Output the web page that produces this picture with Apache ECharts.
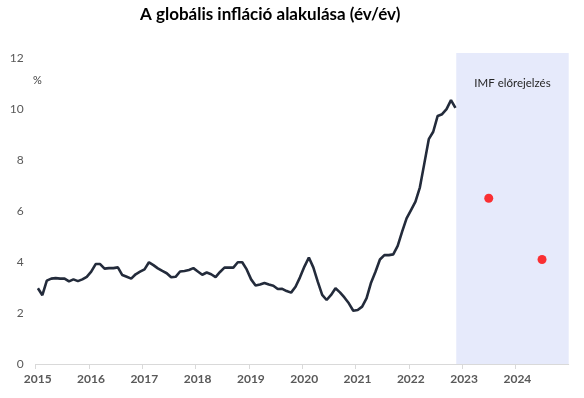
<!DOCTYPE html>
<html>
<head>
<meta charset="utf-8">
<script src="https://cdn.jsdelivr.net/npm/echarts@6/dist/echarts.min.js"></script>
<style>html,body{margin:0;padding:0;background:#fff}#c{width:584px;height:398px}</style>
</head>
<body>
<div id="c"></div>
<script>
// Monthly global inflation (y/y, %), Jan 2015 .. Nov 2022
const startYear = 2015;
const inflation = [
  2.97, 2.70, 3.27, 3.35, 3.37, 3.35, 3.35, 3.24, 3.32, 3.25, 3.32, 3.42,
  3.62, 3.92, 3.92, 3.74, 3.76, 3.76, 3.79, 3.49, 3.42, 3.35, 3.52, 3.62,
  3.71, 3.99, 3.88, 3.75, 3.65, 3.56, 3.40, 3.42, 3.63, 3.65, 3.69, 3.76,
  3.63, 3.50, 3.59, 3.52, 3.41, 3.61, 3.78, 3.78, 3.78, 3.99, 3.99, 3.71,
  3.32, 3.08, 3.12, 3.18, 3.12, 3.07, 2.94, 2.95, 2.86, 2.80, 3.03, 3.40,
  3.82, 4.18, 3.79, 3.23, 2.71, 2.51, 2.71, 2.97, 2.81, 2.61, 2.38, 2.09,
  2.12, 2.25, 2.58, 3.19, 3.62, 4.10, 4.27, 4.27, 4.30, 4.63, 5.19, 5.71,
  6.04, 6.37, 6.93, 7.87, 8.82, 9.11, 9.73, 9.80, 10.00, 10.35, 10.05
];
// IMF forecast (annual averages)
const forecastYears = [2023, 2024];
const forecastValues = [6.5, 4.1];
const forecastStart = 2022.89;
const xMin = 2015, xMax = 2025;
const yTicks = [0, 2, 4, 6, 8, 10, 12];

const lineData = inflation.map((v, i) => [startYear + (i + 0.5) / 12, v]);
const dotData = forecastYears.map((y, i) => [y + 0.5, forecastValues[i]]);

const chart = echarts.init(document.getElementById('c'), null, {renderer: 'canvas'});
chart.setOption({
  animation: false,
  backgroundColor: '#ffffff',
  title: [
    {
      text: 'A globális infláció alakulása (év/év)',
      left: 140, top: 6, padding: 0,
      textStyle: {fontFamily: 'Lato', fontWeight: 'bold', fontSize: 17, color: '#000000'}
    },
    {
      text: '%',
      left: 33, top: 75, padding: 0,
      textStyle: {fontFamily: 'Lato', fontWeight: 'normal', fontSize: 11, color: '#404040'}
    }
  ],
  grid: {left: 35.7, right: 15.3, top: 53, bottom: 34, containLabel: false},
  xAxis: {
    type: 'value',
    min: xMin, max: xMax, interval: 1,
    axisLine: {show: true, lineStyle: {color: '#d9d9d9', width: 1}},
    axisTick: {show: true, length: 5, lineStyle: {color: '#d9d9d9'}},
    splitLine: {show: false},
    axisLabel: {
      showMaxLabel: false,
      margin: 9,
      padding: [0, 0, 0, 4],
      fontFamily: 'Lato', fontWeight: 'bold', fontSize: 12, color: '#595959',
      formatter: v => String(v)
    }
  },
  yAxis: {
    type: 'value',
    min: yTicks[0], max: 12.2, interval: 2,
    axisLine: {show: false},
    axisTick: {show: false},
    splitLine: {show: false},
    axisLabel: {
      showMaxLabel: false,
      margin: 12,
      fontFamily: 'Lato', fontSize: 12, color: '#595959',
      formatter: v => (yTicks.indexOf(v) >= 0 ? String(v) : '')
    }
  },
  series: [
    {
      type: 'line',
      data: lineData,
      showSymbol: false,
      symbol: 'none',
      lineStyle: {color: '#232b3b', width: 2.6},
      z: 3,
      markArea: {
        silent: true,
        itemStyle: {color: '#e6eafb'},
        label: {
          show: true,
          position: 'insideTop',
          distance: 24,
          fontFamily: 'Lato', fontSize: 11.5, color: '#262626'
        },
        data: [[{xAxis: forecastStart, name: 'IMF előrejelzés'}, {xAxis: xMax}]]
      }
    },
    {
      type: 'scatter',
      data: dotData,
      symbol: 'circle',
      symbolSize: 9,
      itemStyle: {color: '#ff0000'},
      z: 4
    }
  ]
});
</script>
</body>
</html>
